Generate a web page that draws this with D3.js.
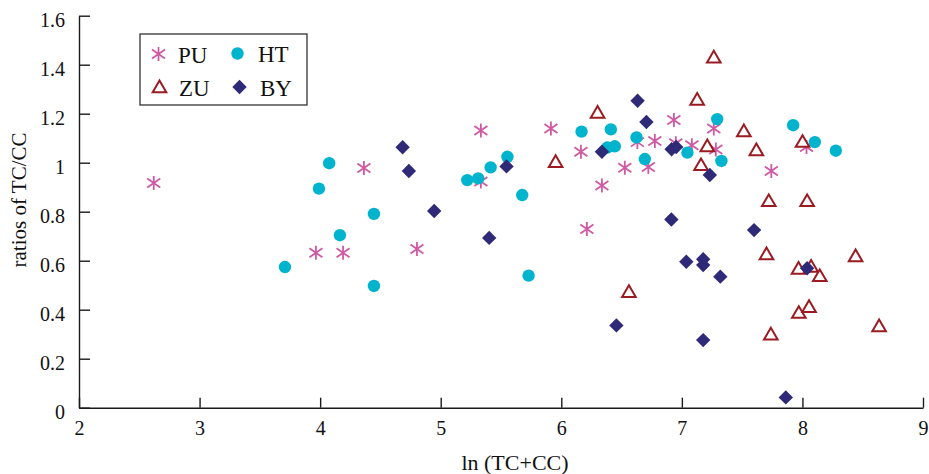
<!DOCTYPE html>
<html>
<head>
<meta charset="utf-8">
<script src="https://cdn.jsdelivr.net/npm/d3@7/dist/d3.min.js"></script>
<style>
  body { margin: 0; background: #fff; }
  svg text { font-family: "Liberation Serif", "Times New Roman", serif; fill: #111; }
</style>
</head>
<body>
<div id="chart"></div>
<script>
'use strict'

// values: [ln(TC+CC), TC/CC]
var puData = [
  [2.62, 0.917], [3.965, 0.632], [4.19, 0.632], [4.363, 0.978], [4.803, 0.648],
  [5.333, 1.131], [5.333, 0.923], [5.914, 1.14], [6.163, 1.045], [6.212, 0.729],
  [6.337, 0.907], [6.527, 0.979], [6.631, 1.084], [6.722, 0.982], [6.776, 1.089],
  [6.934, 1.174], [6.95, 1.079], [7.083, 1.071], [7.265, 1.14], [7.282, 1.054],
  [7.742, 0.966], [8.034, 1.064]
];
var zuData = [
  [5.953, 1.004], [6.301, 1.205], [6.561, 0.473], [7.127, 1.258], [7.159, 0.991],
  [7.211, 1.068], [7.265, 1.43], [7.514, 1.129], [7.618, 1.052], [7.702, 0.627],
  [7.721, 0.844], [7.738, 0.3], [7.97, 0.388], [7.968, 0.568], [8.001, 1.086],
  [8.039, 0.844], [8.055, 0.412], [8.072, 0.576], [8.144, 0.538], [8.441, 0.619],
  [8.636, 0.333]
];
var htData = [
  [3.708, 0.574], [3.99, 0.894], [4.075, 0.998], [4.164, 0.704], [4.446, 0.791],
  [4.446, 0.497], [5.22, 0.929], [5.311, 0.936], [5.414, 0.981], [5.553, 1.024],
  [5.676, 0.868], [5.729, 0.539], [6.168, 1.127], [6.382, 1.062], [6.411, 1.136],
  [6.444, 1.067], [6.624, 1.103], [6.693, 1.015], [7.046, 1.041], [7.293, 1.178],
  [7.328, 1.007], [7.923, 1.153], [8.103, 1.084], [8.277, 1.049]
];
var byData = [
  [4.684, 1.063], [4.736, 0.966], [4.946, 0.803], [5.402, 0.693], [5.546, 0.985],
  [6.337, 1.045], [6.457, 0.336], [6.633, 1.253], [6.706, 1.166], [6.915, 1.055],
  [6.953, 1.064], [7.232, 0.95], [6.913, 0.768], [7.599, 0.725], [7.037, 0.596],
  [7.177, 0.606], [7.177, 0.582], [7.319, 0.535], [7.177, 0.276], [7.862, 0.042],
  [8.039, 0.569]
];

var seriesNames = ['PU', 'ZU', 'HT', 'BY'];
var xTicks = [2, 3, 4, 5, 6, 7, 8, 9];
var yTicks = [0, 0.2, 0.4, 0.6, 0.8, 1, 1.2, 1.4, 1.6];
var xLabel = 'ln (TC+CC)';
var yLabel = 'ratios of TC/CC';

(function() {
  var width = 929, height = 474;
  var plot = { left: 79, right: 923, top: 15.7, bottom: 407.7 };

  var colors = { PU: '#cf5aa4', ZU: '#9a1b22', HT: '#00b4cd', BY: '#2f2a78' };

  var shapes = {
    PU: 'M0,-7V7M-6.5,-4.5L6.5,4.5M-6.5,4.5L6.5,-4.5',
    ZU: 'M0,-6.5L6.8,5.2L-6.8,5.2Z',
    HT: 'M6.2,0A6.2,6.2 0 1,1 -6.2,0A6.2,6.2 0 1,1 6.2,0Z',
    BY: 'M0,-7.2L7.2,0L0,7.2L-7.2,0Z'
  };

  function styleMark(sel, name) {
    if (name === 'PU') {
      sel.attr('fill', 'none').attr('stroke', colors.PU).attr('stroke-width', 1.8);
    } else if (name === 'ZU') {
      sel.attr('fill', '#fff').attr('stroke', colors.ZU).attr('stroke-width', 2);
    } else {
      sel.attr('fill', colors[name]).attr('stroke', 'none');
    }
  }

  var svg = d3.select('#chart').append('svg')
    .attr('width', width)
    .attr('height', height);

  var x = d3.scaleLinear().domain([2, 9]).range([plot.left, plot.right]);
  var y = d3.scaleLinear().domain([0, 1.6]).range([plot.bottom, plot.top]);

  var xAxis = d3.axisBottom(x)
    .tickValues(xTicks)
    .tickSizeInner(-10)
    .tickSizeOuter(0)
    .tickPadding(13)
    .tickFormat(d3.format('d'));

  var yAxis = d3.axisLeft(y)
    .tickValues(yTicks)
    .tickSizeInner(-11)
    .tickSizeOuter(0)
    .tickPadding(14)
    .tickFormat(function(d) { return String(+d.toFixed(1)); });

  var gx = svg.append('g')
    .attr('transform', 'translate(0,' + plot.bottom + ')')
    .call(xAxis);
  var gy = svg.append('g')
    .attr('transform', 'translate(' + plot.left + ',0)')
    .call(yAxis);

  [gx, gy].forEach(function(g) {
    g.selectAll('path, line').attr('stroke', '#1a1a1a').attr('stroke-width', 1.4);
    g.selectAll('text')
      .style('font-family', '"Liberation Serif", "Times New Roman", serif')
      .style('font-size', '20px')
      .attr('fill', '#111');
  });
  gy.selectAll('text').attr('dy', '0.55em');

  svg.append('text')
    .attr('x', 515)
    .attr('y', 470)
    .attr('text-anchor', 'middle')
    .style('font-size', '22px')
    .text(xLabel);

  svg.append('text')
    .attr('text-anchor', 'middle')
    .attr('transform', 'translate(26,' + 200 + ') rotate(-90)')
    .style('font-size', '21px')
    .text(yLabel);

  // marks, drawn in the reference's stacking order
  var allData = { PU: puData, ZU: zuData, HT: htData, BY: byData };
  seriesNames.forEach(function(name) {
    var g = svg.append('g').attr('class', 'series-' + name);
    g.selectAll('path')
      .data(allData[name])
      .enter()
      .append('path')
      .attr('d', shapes[name])
      .attr('transform', function(d) { return 'translate(' + x(d[0]) + ',' + y(d[1]) + ')'; })
      .call(styleMark, name);
  });

  // legend
  var legend = svg.append('g').attr('transform', 'translate(140,34)');
  legend.append('rect')
    .attr('width', 167)
    .attr('height', 71)
    .attr('fill', '#fff')
    .attr('stroke', '#333')
    .attr('stroke-width', 1.3);

  var legendPos = {
    PU: [18.5, 20], ZU: [19.5, 53], HT: [97.5, 19.5], BY: [99.5, 53]
  };
  seriesNames.forEach(function(name) {
    var p = legendPos[name];
    legend.append('path')
      .attr('d', shapes[name])
      .attr('transform', 'translate(' + p[0] + ',' + p[1] + ')')
      .call(styleMark, name);
    legend.append('text')
      .attr('x', p[0] + (name === 'PU' || name === 'ZU' ? 19.5 : 20.5))
      .attr('y', p[1] + 8.5)
      .style('font-size', '23px')
      .text(name);
  });
})();
</script>
</body>
</html>
